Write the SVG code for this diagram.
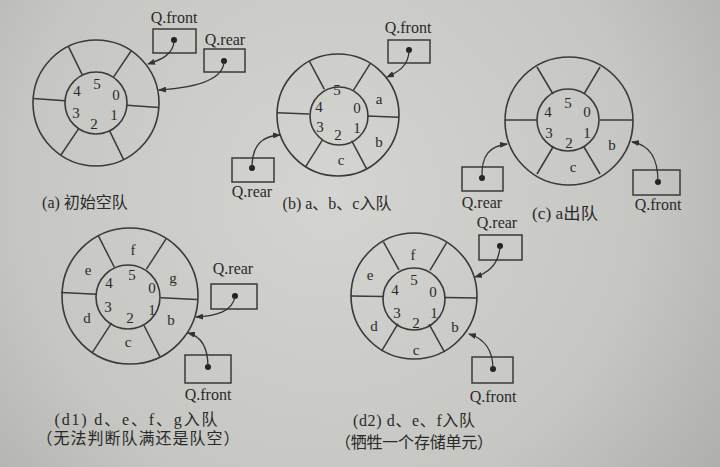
<svg xmlns="http://www.w3.org/2000/svg" width="720" height="467" viewBox="0 0 720 467">
<defs>
<radialGradient id="paper" cx="330" cy="190" r="520" gradientUnits="userSpaceOnUse">
<stop offset="0" stop-color="#d4d4d0"/>
<stop offset="0.6" stop-color="#c6c6c2"/>
<stop offset="1" stop-color="#a9a9a6"/>
</radialGradient>
<marker id="arr" markerWidth="8" markerHeight="6" refX="7" refY="3" orient="auto" markerUnits="userSpaceOnUse">
<path d="M0,0 L8,3 L0,6 z" fill="#333"/>
</marker>
<style>
.ring{fill:none;stroke:#3a3a3a;stroke-width:1.6}
.spk{stroke:#3a3a3a;stroke-width:1.5}
.box{fill:none;stroke:#3a3a3a;stroke-width:1.5}
.dot{fill:#222}
.con{fill:none;stroke:#333;stroke-width:1.3;marker-end:url(#arr)}
text{font-family:"Liberation Serif","Noto Sans CJK SC",serif;fill:#2a2a2a;text-anchor:middle}
.idx{font-size:15px}
.el{font-size:15px}
.lbl{font-size:16px}
.cap{font-size:16px}
</style>
</defs>
<rect x="0" y="0" width="720" height="467" fill="url(#paper)"/>

<!-- (a) -->
<g id="ring-a">
<circle class="ring" cx="96" cy="103" r="63"/>
<circle class="ring" cx="96" cy="103" r="31"/>
<g transform="rotate(4 96 103)">
<line class="spk" x1="127" y1="103" x2="159" y2="103"/>
<line class="spk" x1="111.5" y1="129.8" x2="127.5" y2="157.6"/>
<line class="spk" x1="80.5" y1="129.8" x2="64.5" y2="157.6"/>
<line class="spk" x1="65" y1="103" x2="33" y2="103"/>
<line class="spk" x1="80.5" y1="76.2" x2="64.5" y2="48.4"/>
<line class="spk" x1="111.5" y1="76.2" x2="127.5" y2="48.4"/>
</g>
<text class="idx" x="97" y="89">5</text>
<text class="idx" x="116" y="100">0</text>
<text class="idx" x="114" y="120">1</text>
<text class="idx" x="94" y="129">2</text>
<text class="idx" x="76" y="118">3</text>
<text class="idx" x="77" y="96">4</text>
</g>
<g id="front-a">
<rect class="box" x="153" y="29" width="43" height="24"/>
<circle class="dot" cx="174" cy="40" r="3"/>
<text class="lbl" x="174" y="23">Q.front</text>
</g>
<g id="rear-a">
<rect class="box" x="204" y="49" width="41" height="23"/>
<circle class="dot" cx="224" cy="61" r="3"/>
<text class="lbl" x="225" y="45">Q.rear</text>
</g>
<text class="cap" x="85" y="208">(a) 初始空队</text>

<!-- (b) -->
<g id="ring-b">
<circle class="ring" cx="338" cy="115" r="61"/>
<circle class="ring" cx="339" cy="116" r="29"/>
<g transform="rotate(2 338 115)">
<line class="spk" x1="367" y1="115" x2="399" y2="115"/>
<line class="spk" x1="352.5" y1="140.1" x2="368.5" y2="167.8"/>
<line class="spk" x1="323.5" y1="140.1" x2="307.5" y2="167.8"/>
<line class="spk" x1="309" y1="115" x2="277" y2="115"/>
<line class="spk" x1="323.5" y1="89.9" x2="307.5" y2="62.2"/>
<line class="spk" x1="352.5" y1="89.9" x2="368.5" y2="62.2"/>
</g>
<text class="idx" x="337" y="95">5</text>
<text class="idx" x="357" y="113">0</text>
<text class="idx" x="357" y="133">1</text>
<text class="idx" x="338" y="140">2</text>
<text class="idx" x="320" y="132">3</text>
<text class="idx" x="319" y="112">4</text>
<text class="el" x="379" y="104">a</text>
<text class="el" x="379" y="147">b</text>
<text class="el" x="341" y="165">c</text>
</g>
<g id="front-b">
<rect class="box" x="388" y="40" width="42" height="23"/>
<circle class="dot" cx="409" cy="50" r="3"/>
<text class="lbl" x="408" y="33">Q.front</text>
</g>
<g id="rear-b">
<rect class="box" x="232" y="158" width="42" height="24"/>
<circle class="dot" cx="252" cy="168" r="3"/>
<text class="lbl" x="252" y="197">Q.rear</text>
</g>
<text class="cap" x="337" y="209">(b) a、b、c入队</text>

<!-- (c) -->
<g id="ring-c">
<circle class="ring" cx="569" cy="121" r="64"/>
<circle class="ring" cx="568" cy="120" r="31"/>
<line class="spk" x1="600" y1="120" x2="633" y2="120"/>
<line class="spk" x1="584" y1="147" x2="600" y2="174"/>
<line class="spk" x1="553" y1="147" x2="537" y2="174"/>
<line class="spk" x1="537" y1="120" x2="505" y2="120"/>
<line class="spk" x1="553" y1="94" x2="537" y2="67"/>
<line class="spk" x1="584" y1="94" x2="600" y2="67"/>
<text class="idx" x="568" y="108">5</text>
<text class="idx" x="587" y="117">0</text>
<text class="idx" x="587" y="138">1</text>
<text class="idx" x="569" y="148">2</text>
<text class="idx" x="549" y="138">3</text>
<text class="idx" x="548" y="117">4</text>
<text class="el" x="612" y="150">b</text>
<text class="el" x="573" y="172">c</text>
</g>
<g id="rear-c">
<rect class="box" x="462" y="167" width="41" height="24"/>
<circle class="dot" cx="482" cy="178" r="3"/>
<text class="lbl" x="482" y="208">Q.rear</text>
</g>
<g id="front-c">
<rect class="box" x="633" y="170" width="47" height="25"/>
<circle class="dot" cx="658" cy="182" r="3"/>
<text class="lbl" x="658" y="210">Q.front</text>
</g>
<text class="cap" x="565" y="219" textLength="66" lengthAdjust="spacingAndGlyphs">(c) a出队</text>

<!-- (d1) -->
<g id="ring-d1">
<circle class="ring" cx="130" cy="296" r="68"/>
<circle class="ring" cx="128" cy="297" r="32"/>
<g transform="rotate(3 129 296)">
<line class="spk" x1="161" y1="296" x2="197" y2="296"/>
<line class="spk" x1="145" y1="323.7" x2="163" y2="354.9"/>
<line class="spk" x1="113" y1="323.7" x2="95" y2="354.9"/>
<line class="spk" x1="97" y1="296" x2="61" y2="296"/>
<line class="spk" x1="113" y1="268.3" x2="95" y2="237.1"/>
<line class="spk" x1="145" y1="268.3" x2="163" y2="237.1"/>
</g>
<text class="idx" x="132" y="280">5</text>
<text class="idx" x="152" y="293">0</text>
<text class="idx" x="152" y="315">1</text>
<text class="idx" x="130" y="323">2</text>
<text class="idx" x="108" y="312">3</text>
<text class="idx" x="109" y="288">4</text>
<text class="el" x="133" y="255">f</text>
<text class="el" x="173" y="283">g</text>
<text class="el" x="88" y="275">e</text>
<text class="el" x="87" y="323">d</text>
<text class="el" x="128" y="347">c</text>
<text class="el" x="171" y="325">b</text>
</g>
<g id="rear-d1">
<rect class="box" x="211" y="284" width="46" height="25"/>
<circle class="dot" cx="235" cy="296" r="3"/>
<text class="lbl" x="233" y="274">Q.rear</text>
</g>
<g id="front-d1">
<rect class="box" x="185" y="355" width="46" height="28"/>
<circle class="dot" cx="208" cy="367" r="3"/>
<text class="lbl" x="208" y="400">Q.front</text>
</g>
<text class="cap" x="136" y="425" textLength="163" lengthAdjust="spacing">(d1) d、e、f、g入队</text>
<text class="cap" x="138" y="444" textLength="203" lengthAdjust="spacing">（无法判断队满还是队空）</text>

<!-- (d2) -->
<g id="ring-d2">
<circle class="ring" cx="414" cy="296" r="63"/>
<circle class="ring" cx="414" cy="299" r="31"/>
<g transform="rotate(1 414 297)">
<line class="spk" x1="445" y1="297" x2="477" y2="297"/>
<line class="spk" x1="429.5" y1="323.8" x2="445.5" y2="351.6"/>
<line class="spk" x1="398.5" y1="323.8" x2="382.5" y2="351.6"/>
<line class="spk" x1="383" y1="297" x2="351" y2="297"/>
<line class="spk" x1="398.5" y1="270.2" x2="382.5" y2="242.4"/>
<line class="spk" x1="429.5" y1="270.2" x2="445.5" y2="242.4"/>
</g>
<text class="idx" x="414" y="285">5</text>
<text class="idx" x="433" y="297">0</text>
<text class="idx" x="434" y="318">1</text>
<text class="idx" x="416" y="328">2</text>
<text class="idx" x="397" y="318">3</text>
<text class="idx" x="395" y="295">4</text>
<text class="el" x="413" y="260">f</text>
<text class="el" x="370" y="280">e</text>
<text class="el" x="374" y="331">d</text>
<text class="el" x="416" y="355">c</text>
<text class="el" x="455" y="332">b</text>
</g>
<g id="rear-d2">
<rect class="box" x="479" y="235" width="43" height="25"/>
<circle class="dot" cx="500" cy="246" r="3"/>
<text class="lbl" x="497" y="228">Q.rear</text>
</g>
<g id="front-d2">
<rect class="box" x="472" y="357" width="41" height="26"/>
<circle class="dot" cx="493" cy="369" r="3"/>
<text class="lbl" x="493" y="402">Q.front</text>
</g>
<text class="cap" x="414" y="426" textLength="122" lengthAdjust="spacing">(d2) d、e、f入队</text>
<text class="cap" x="414" y="448" textLength="158" lengthAdjust="spacing">（牺牲一个存储单元）</text>

<g id="connectors">
<path class="con" d="M174,40 C174,55 160,60 148,64"/>
<path class="con" d="M224,61 C224,82 190,88 159,90"/>
<path class="con" d="M409,50 C409,66 398,72 387,77"/>
<path class="con" d="M252,168 C252,145 262,136 280,135"/>
<path class="con" d="M482,178 C481,155 490,146 507,144"/>
<path class="con" d="M658,182 C658,158 650,145 632,142"/>
<path class="con" d="M235,296 C233,312 215,316 196,317"/>
<path class="con" d="M208,367 C208,345 200,336 188,333"/>
<path class="con" d="M500,246 C499,265 488,273 475,277"/>
<path class="con" d="M493,369 C493,347 482,338 469,334"/>
</g>
</svg>
